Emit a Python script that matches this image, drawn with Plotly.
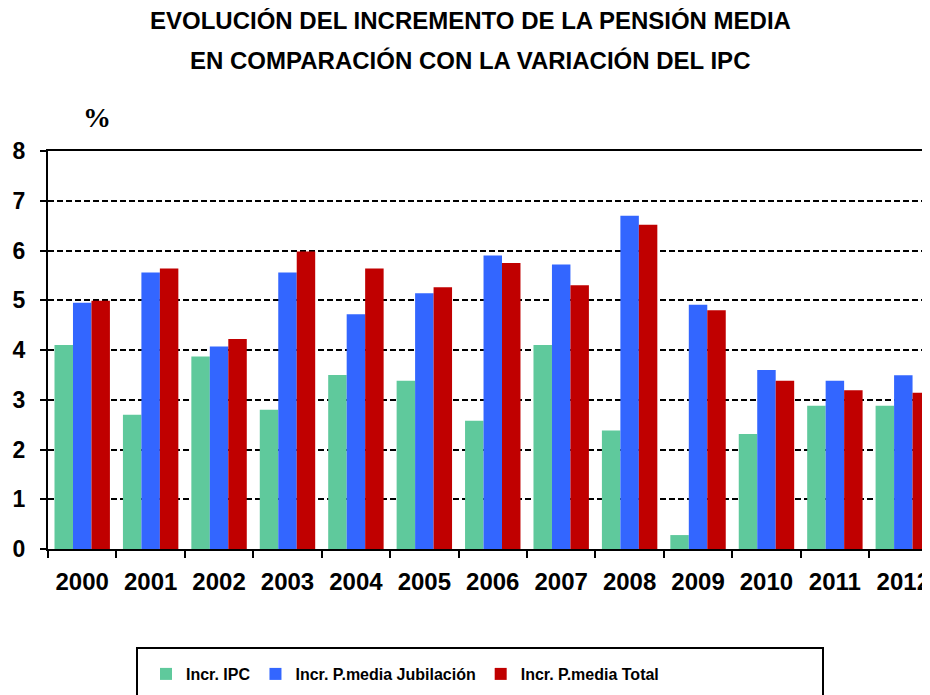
import plotly.graph_objects as go

years = ["2000", "2001", "2002", "2003", "2004", "2005", "2006", "2007", "2008", "2009", "2010", "2011", "2012"]
incr_ipc = [4.1, 2.7, 3.87, 2.8, 3.5, 3.38, 2.58, 4.1, 2.38, 0.28, 2.31, 2.88, 2.88]
incr_jubilacion = [4.95, 5.56, 4.07, 5.56, 4.72, 5.14, 5.9, 5.72, 6.7, 4.91, 3.6, 3.38, 3.49]
incr_total = [4.99, 5.64, 4.22, 5.98, 5.64, 5.26, 5.75, 5.3, 6.52, 4.8, 3.38, 3.19, 3.14]

y_ticks = [0, 1, 2, 3, 4, 5, 6, 7, 8]

FONT = "Liberation Sans, Arial, sans-serif"
OFF = 8  # page body margin offset
W, H = 930 - OFF, 695 - OFF

fig = go.Figure()
fig.add_trace(go.Bar(x=years, y=incr_ipc, name="Incr. IPC",
                     marker=dict(color="#5FC99C", line=dict(width=0))))
fig.add_trace(go.Bar(x=years, y=incr_jubilacion, name="Incr. P.media Jubilación",
                     marker=dict(color="#3366FF", line=dict(width=0))))
fig.add_trace(go.Bar(x=years, y=incr_total, name="Incr. P.media Total",
                     marker=dict(color="#C00000", line=dict(width=0))))

fig.update_layout(
    width=W, height=H,
    margin=dict(l=48 - OFF, r=0, t=151 - OFF, b=H - (549 - OFF), autoexpand=False),
    paper_bgcolor="white", plot_bgcolor="white",
    barmode="group", bargap=0.19, bargroupgap=0,
    font=dict(family=FONT, color="black"),
    showlegend=True,
    legend=dict(
        orientation="h", xref="container", yref="container",
        x=(146 - OFF) / W, y=1 - (657 - OFF) / H, xanchor="left", yanchor="top",
        borderwidth=0, bgcolor="rgba(0,0,0,0)",
        font=dict(family=FONT, size=16, color="black", weight="bold"),
        traceorder="normal",
    ),
    xaxis=dict(
        range=[-0.5, 12.39], automargin=False,
        showline=True, linecolor="black", linewidth=2, mirror=True,
        ticks="outside", ticklen=7, tickwidth=2, tickcolor="black",
        tickson="boundaries",
        tickfont=dict(family=FONT, size=24, color="black", weight="bold"),
        ticklabelstandoff=10,
        showgrid=False, fixedrange=True,
    ),
    yaxis=dict(
        range=[0, 8], tickvals=y_ticks, automargin=False,
        showline=True, linecolor="black", linewidth=2,
        ticks="outside", ticklen=6, tickwidth=2, tickcolor="black",
        tickfont=dict(family=FONT, size=23, color="black", weight="bold"),
        ticklabelstandoff=10,
        showgrid=True, gridcolor="black", gridwidth=1.5, griddash="6px,3px",
        zeroline=False, fixedrange=True,
    ),
    shapes=[
        dict(type="rect", xref="paper", yref="paper",
             x0=(137 - 48) / 882, x1=(823 - 48) / 882,
             y0=(549 - 648) / 398, y1=(549 - 720) / 398,
             line=dict(color="black", width=2), fillcolor="rgba(0,0,0,0)", layer="below"),
    ],
    annotations=[
        dict(text="<b>EVOLUCIÓN DEL INCREMENTO DE LA PENSIÓN MEDIA</b>",
             xref="paper", yref="paper", x=(470 - 48) / 882, y=1.329, xanchor="center", yanchor="middle",
             showarrow=False, font=dict(family=FONT, size=24, color="black")),
        dict(text="<b>EN COMPARACIÓN CON LA VARIACIÓN DEL IPC</b>",
             xref="paper", yref="paper", x=(470 - 48) / 882, y=1.2286, xanchor="center", yanchor="middle",
             showarrow=False, font=dict(family=FONT, size=24, color="black")),
        dict(text="<b>%</b>",
             xref="paper", yref="paper", x=0.0556, y=1.085, xanchor="center", yanchor="middle",
             showarrow=False, font=dict(family="Liberation Serif, Times New Roman, serif", size=28, color="black")),
    ],
)

fig.write_html("out.html")
